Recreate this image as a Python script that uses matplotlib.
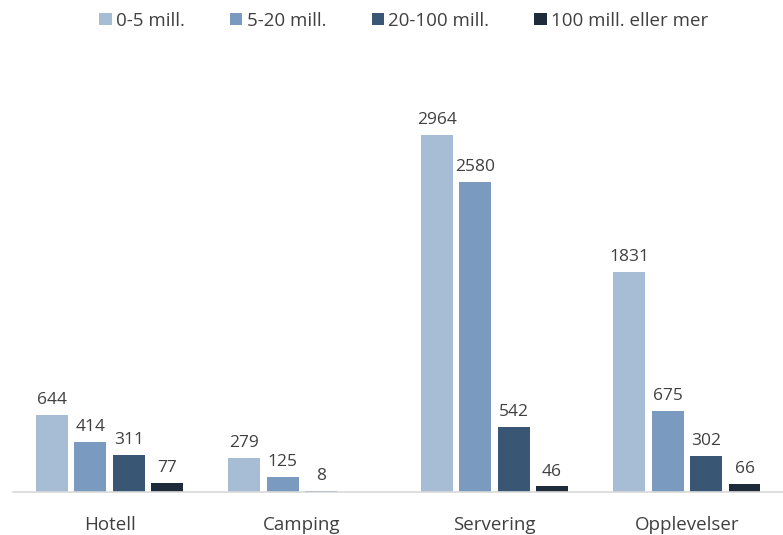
import numpy as np
import matplotlib.pyplot as plt

plt.rcParams['font.family'] = ['Open Sans', 'DejaVu Sans']

categories = ["Hotell", "Camping", "Servering", "Opplevelser"]
series = ["0-5 mill.", "5-20 mill.", "20-100 mill.", "100 mill. eller mer"]
values = [
    [644, 279, 2964, 1831],
    [414, 125, 2580, 675],
    [311, 8, 542, 302],
    [77, 0, 46, 66],
]
labels_shown = [
    [True, True, True, True],
    [True, True, True, True],
    [True, True, True, True],
    [True, False, True, True],
]
colors = ["#A7BDD5", "#7A9BBF", "#3A5675", "#1E2B3B"]

fig = plt.figure(figsize=(7.83, 5.35), dpi=100)
ax = fig.add_axes([0.017, 0.0804, 0.983, 0.742])

x = np.arange(len(categories))
step = 0.2
width = 0.166
for i, (name, vals) in enumerate(zip(series, values)):
    pos = x + (i - 1.5) * step
    bars = ax.bar(pos, vals, width, color=colors[i], label=name)
    for b, v, show in zip(bars, vals, labels_shown[i]):
        if show:
            ax.annotate(str(v), (b.get_x() + b.get_width() / 2, v),
                        xytext=(0, 5), textcoords="offset points",
                        ha="center", va="bottom", fontsize=12.5, color="#404040")

ax.set_xlim(-0.5, 3.5)
ax.set_ylim(0, 3300)
ax.set_yticks([])
ax.set_xticks(x)
ax.set_xticklabels(categories, fontsize=13.5, color="#404040")
ax.tick_params(axis="x", length=0, pad=17)
for s in ["top", "right", "left"]:
    ax.spines[s].set_visible(False)
ax.spines["bottom"].set_color("#D9D9D9")
ax.spines["bottom"].set_linewidth(1.2)

fig.legend(loc="upper center", bbox_to_anchor=(0.516, 1.01), ncol=4, frameon=False,
           fontsize=13.5, handlelength=0.65, handleheight=0.65, handletextpad=0.25,
           columnspacing=2.4, labelcolor="#404040")

fig.savefig("out.png", dpi=100)
